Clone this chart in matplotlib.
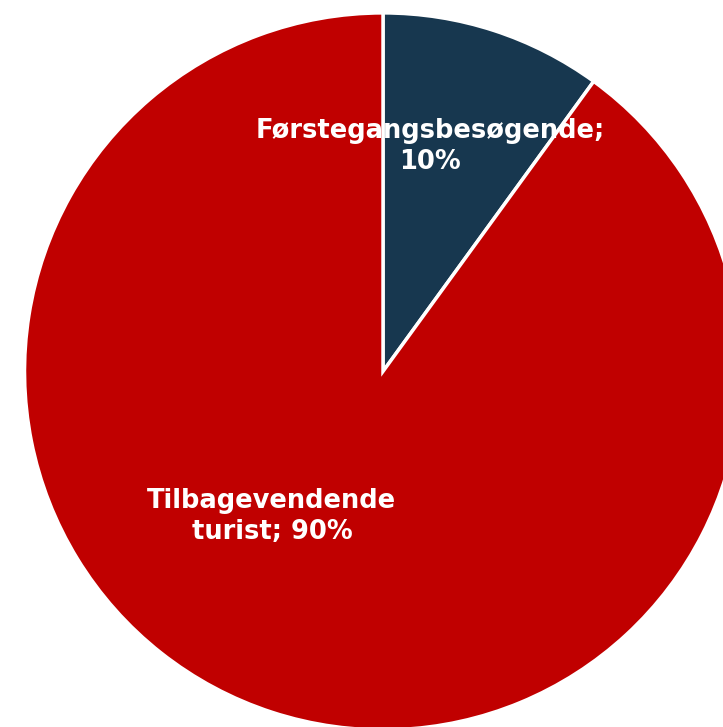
import matplotlib
matplotlib.use("Agg")
import matplotlib.pyplot as plt

labels = ["Førstegangsbesøgende", "Tilbagevendende turist"]
shares = [10, 90]
colors = ["#17374F", "#C00000"]

# label texts as shown in the chart
label_texts = ["Førstegangsbesøgende;\n10%", "Tilbagevendende\nturist; 90%"]

fig = plt.figure(figsize=(7.23, 7.27), dpi=100)
ax = fig.add_axes([0, 0, 1, 1])

wedges, _ = ax.pie(shares, colors=colors, startangle=90, counterclock=False,
                   radius=1, wedgeprops=dict(edgecolor="white", linewidth=2.5))

# pie is clipped by the figure on the right and bottom
ax.set_xlim(-1.068, 0.948)
ax.set_ylim(-0.992, 1.036)
ax.set_aspect("equal")
ax.axis("off")

ax.text(0.131, 0.628, label_texts[0], ha="center", va="center", color="white",
        fontsize=18.5, fontweight="bold", linespacing=1.25, family="DejaVu Sans")
ax.text(-0.310, -0.405, label_texts[1], ha="center", va="center", color="white",
        fontsize=18.5, fontweight="bold", linespacing=1.25, family="DejaVu Sans")

fig.savefig("out.png", dpi=100)
